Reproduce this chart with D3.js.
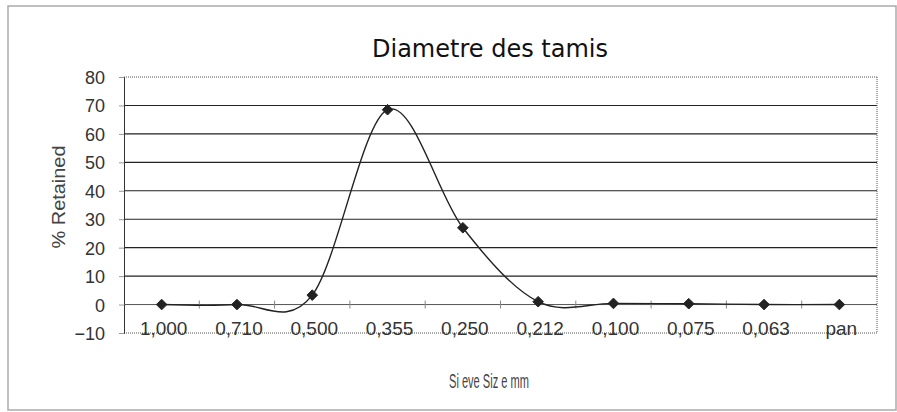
<!DOCTYPE html>
<html><head><meta charset="utf-8">
<script src="https://cdn.jsdelivr.net/npm/d3@7"></script>
<style>body{margin:0;background:#fff}svg{display:block}</style>
</head><body>
<script>
const categories = ["1,000","0,710","0,500","0,355","0,250","0,212","0,100","0,075","0,063","pan"];
const retained = [0, 0, 3.3, 68.5, 27, 1, 0.4, 0.3, 0, 0];
const yTicks = [-10, 0, 10, 20, 30, 40, 50, 60, 70, 80];

const W = 897, H = 412;
const m = {left:124, right:20, top:77, bottom:79};
const svg = d3.select("body").append("svg").attr("width", W).attr("height", H);

// outer chart frame
svg.append("rect").attr("x",8).attr("y",6).attr("width",W-9).attr("height",H-8)
  .attr("fill","#fff").attr("stroke","#aaa").attr("stroke-width",1.5);

const x = d3.scaleBand().domain(categories).range([m.left, W-m.right]);
const y = d3.scaleLinear().domain([-10, 80]).range([H-m.bottom, m.top]);

// gridlines
svg.append("g").selectAll("line").data(yTicks.filter(v => v > -10 && v < 80 && v !== 0)).join("line")
  .attr("x1", m.left).attr("x2", W-m.right)
  .attr("y1", d => y(d)).attr("y2", d => y(d))
  .attr("stroke","#222").attr("stroke-width",1.1);

// plot border (dotted top, right, bottom)
const pb = svg.append("g").attr("stroke","#555").attr("stroke-dasharray","1,1").attr("fill","none");
pb.append("line").attr("x1",m.left).attr("x2",W-m.right).attr("y1",y(80)).attr("y2",y(80));
pb.append("line").attr("x1",W-m.right).attr("x2",W-m.right).attr("y1",y(80)).attr("y2",y(-10));
pb.append("line").attr("x1",m.left).attr("x2",W-m.right).attr("y1",y(-10)).attr("y2",y(-10));

// y axis
const yAxis = svg.append("g").attr("transform",`translate(${m.left},0)`)
  .call(d3.axisLeft(y).tickValues(yTicks).tickSize(5).tickPadding(14).tickFormat(d3.format("d")));
yAxis.select(".domain").attr("stroke","#333");
yAxis.selectAll(".tick line").attr("stroke","#999");
yAxis.selectAll("text").attr("font-family","Liberation Sans, Arial, sans-serif")
  .attr("font-size",18).attr("fill","#333").attr("dy","0.36em");

// category axis at 0
const xAxisG = svg.append("g").attr("transform",`translate(0,${y(0)})`);
xAxisG.append("line").attr("x1",m.left).attr("x2",W-m.right).attr("stroke","#555");
xAxisG.selectAll(".tk").data(categories.slice(1)).join("line").attr("class","tk")
  .attr("x1", d => x(d)).attr("x2", d => x(d)).attr("y1",-4).attr("y2",4)
  .attr("stroke","#888");

// category labels at the bottom
svg.append("g").selectAll("text").data(categories).join("text")
  .attr("x", d => x(d) + x.bandwidth()/2 + 2).attr("y", y(-10) + 2)
  .attr("text-anchor","middle")
  .attr("font-family","Liberation Sans, Arial, sans-serif")
  .attr("font-size",19).attr("fill","#333")
  .text(d => d);

// smoothed line
const line = d3.line()
  .x((d,i) => x(categories[i]) + x.bandwidth()/2)
  .y(d => y(d))
  .curve(d3.curveCardinal.tension(0));
svg.append("path").datum(retained).attr("d", line)
  .attr("fill","none").attr("stroke","#222").attr("stroke-width",1.4);

// diamond markers
svg.append("g").selectAll("path").data(retained).join("path")
  .attr("transform",(d,i) => `translate(${x(categories[i]) + x.bandwidth()/2},${y(d)})`)
  .attr("d", d3.symbol(d3.symbolDiamond2, 72))
  .attr("fill","#222").attr("stroke","#222");

// title
svg.append("text").attr("x",490).attr("y",57).attr("text-anchor","middle")
  .attr("font-family","DejaVu Sans, sans-serif").attr("font-size",24).attr("fill","#111")
  .attr("textLength",236).attr("lengthAdjust","spacingAndGlyphs")
  .text("Diametre des tamis");

// axis titles
svg.append("text").attr("transform",`translate(65,${(y(80)+y(-10))/2 - 8}) rotate(-90)`)
  .attr("text-anchor","middle")
  .attr("font-family","Liberation Sans, Arial, sans-serif").attr("font-size",19).attr("fill","#444")
  .attr("textLength",103).attr("lengthAdjust","spacingAndGlyphs")
  .text("% Retained");
svg.append("text").attr("x",489).attr("y",388).attr("text-anchor","middle")
  .attr("font-family","Liberation Sans, Arial, sans-serif").attr("font-size",21).attr("fill","#444")
  .attr("textLength",80).attr("lengthAdjust","spacingAndGlyphs")
  .text("Si eve Siz e mm");
</script>
</body></html>
